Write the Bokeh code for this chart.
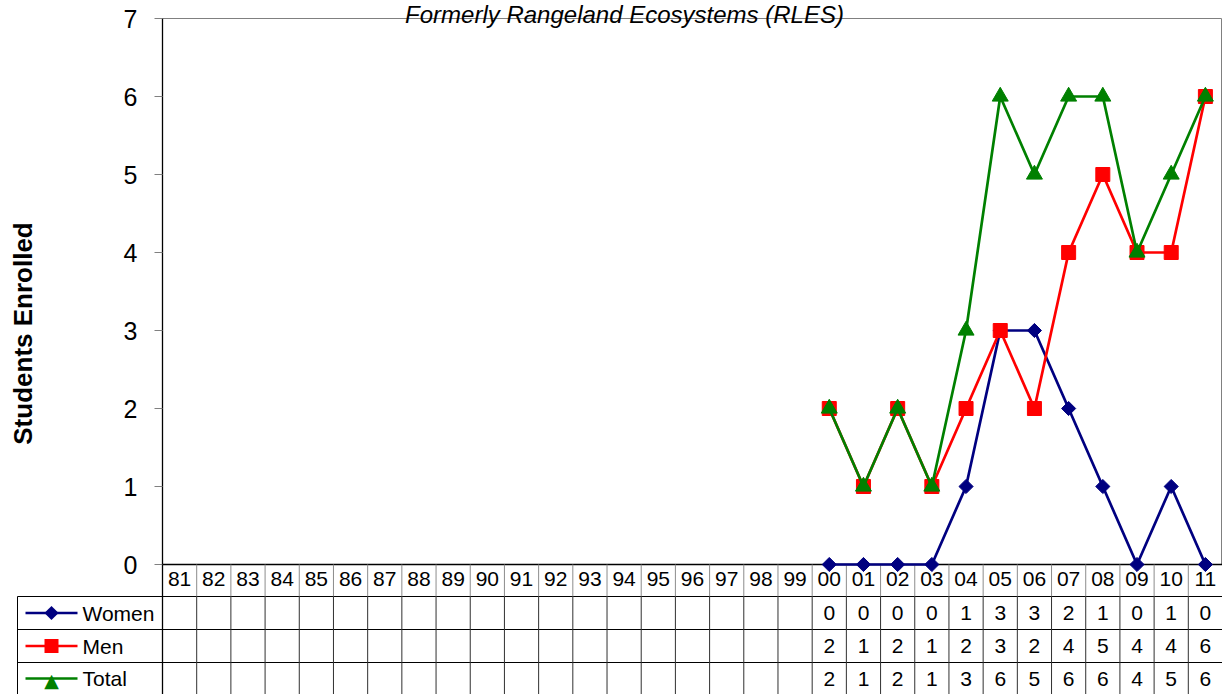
import math
from bokeh.plotting import figure
from bokeh.models import Range1d, FixedTicker
from bokeh.embed import file_html
from bokeh.resources import INLINE
from bokeh.core.properties import value

# ---------------- data ----------------
years = ["81", "82", "83", "84", "85", "86", "87", "88", "89", "90",
         "91", "92", "93", "94", "95", "96", "97", "98", "99", "00",
         "01", "02", "03", "04", "05", "06", "07", "08", "09", "10", "11"]
women = [None] * 19 + [0, 0, 0, 0, 1, 3, 3, 2, 1, 0, 1, 0]
men = [None] * 19 + [2, 1, 2, 1, 2, 3, 2, 4, 5, 4, 4, 6]
total = [None] * 19 + [2, 1, 2, 1, 3, 6, 5, 6, 6, 4, 5, 6]
series_names = ["Women", "Men", "Total"]
y_ticks = [0, 1, 2, 3, 4, 5, 6, 7]
title_text = "Formerly Rangeland Ecosystems (RLES)"
y_title = "Students Enrolled"

# ---------------- layout helpers (page pixels -> data units) ----------------
W, H = 1222, 694
FL, FR, FT, FB = 162, 1222, 18, 564   # plot frame on the page
NCAT = len(years)
YMAX = 7
PXX = NCAT / (FR - FL)        # data units per pixel, x
PXY = YMAX / (FB - FT)        # data units per pixel, y


def dx(px):
    return 0.5 + (px - FL) * PXX


def dy(py):
    return (FB - py) * PXY


FONT = "Liberation Sans"
xs = list(range(1, NCAT + 1))

p = figure(width=W, height=H, x_range=Range1d(0.5, NCAT + 0.5), y_range=Range1d(0, YMAX),
           output_backend="svg", toolbar_location=None,
           min_border_left=FL, min_border_right=0,
           min_border_top=FT, min_border_bottom=H - FB)
p.grid.visible = False
p.outline_line_color = "#808080"
p.outline_line_width = 1
p.background_fill_color = "white"
p.border_fill_color = "white"

# y axis
ya = p.yaxis[0]
ya.ticker = FixedTicker(ticks=y_ticks)
ya.major_label_text_font = FONT
ya.major_label_text_font_size = "25px"
ya.major_label_text_color = "black"
ya.major_tick_out = 8
ya.major_tick_in = 0
ya.minor_tick_out = 0
ya.minor_tick_in = 0
ya.major_tick_line_color = "#808080"
ya.axis_line_color = "black"
ya.axis_line_width = 1.3
ya.major_label_standoff = 17

# x axis (header row of the data table)
xa = p.xaxis[0]
xa.ticker = FixedTicker(ticks=xs)
xa.major_label_overrides = {i: years[i - 1] for i in xs}
xa.major_label_text_font = FONT
xa.major_label_text_font_size = "21px"
xa.major_label_text_color = "black"
xa.major_tick_out = 0
xa.major_tick_in = 0
xa.minor_tick_out = 0
xa.minor_tick_in = 0
xa.axis_line_color = "black"
xa.axis_line_width = 1.3
xa.major_label_standoff = 7

# ---------------- series ----------------
styles = {
    "Women": dict(color="#000080", marker="square", size=10, angle=math.pi / 4),
    "Men": dict(color="#FF0000", marker="square", size=14, angle=0.0),
    "Total": dict(color="#008000", marker="triangle", size=16, angle=0.0),
}
data = {"Women": women, "Men": men, "Total": total}

for name in series_names:
    vals = [float("nan") if v is None else v for v in data[name]]
    st = styles[name]
    p.line(xs, vals, line_color=st["color"], line_width=2.7, level="overlay")
    p.scatter(xs, vals, marker=st["marker"], size=st["size"], angle=st["angle"],
              fill_color=st["color"], line_color=st["color"], level="overlay")

# ---------------- data table ----------------
row_lines = [596, 629, 662]
row_centers = [612.5, 645.5, 678]
x_left = dx(17)
x_right = NCAT + 0.5
y_head_top = 0
y_head_bot = dy(596)
y_bottom = dy(694)

# horizontal rules
p.segment(x0=[x_left] * len(row_lines), y0=[dy(r) for r in row_lines],
          x1=[x_right] * len(row_lines), y1=[dy(r) for r in row_lines],
          line_color="black", line_width=1, level="annotation")
# left border of the table
p.segment(x0=[x_left], y0=[y_head_bot], x1=[x_left], y1=[y_bottom],
          line_color="black", line_width=1, level="annotation")
# column separators
seps = [i + 0.5 for i in range(1, NCAT + 1)]
p.segment(x0=seps, y0=[y_head_top] * len(seps), x1=seps, y1=[y_head_bot] * len(seps),
          line_color="#8c8c8c", line_width=1, level="annotation")
p.segment(x0=seps, y0=[y_head_bot] * len(seps), x1=seps, y1=[y_bottom] * len(seps),
          line_color="#303030", line_width=1, level="annotation")
p.segment(x0=[0.5], y0=[0], x1=[0.5], y1=[y_bottom],
          line_color="black", line_width=1.3, level="annotation")

kx = dx(51)
for name, yc in zip(series_names, row_centers):
    st = styles[name]
    yy = dy(yc)
    # legend key: line + marker
    p.segment(x0=[dx(25)], y0=[yy], x1=[dx(77)], y1=[yy], line_color=st["color"],
              line_width=2.7, level="annotation")
    if name == "Men":
        # square drawn as a thick butt-capped stroke (14 x 14 px)
        p.segment(x0=[kx - 7 * PXX], y0=[yy], x1=[kx + 7 * PXX], y1=[yy],
                  line_color=st["color"], line_width=14, line_cap="butt", level="annotation")
    elif name == "Women":
        # diamond: a 10 px square stroke rotated by 45 degrees
        a = 3.55
        p.segment(x0=[kx - a * PXX], y0=[yy - a * PXY], x1=[kx + a * PXX], y1=[yy + a * PXY],
                  line_color=st["color"], line_width=10, line_cap="butt", level="annotation")
    else:
        p.text(x=[kx], y=[yy - 1.5 * PXY], text=["\u25B2"], text_font=value("DejaVu Sans"),
               text_font_size="19px", text_align="center", text_baseline="middle",
               text_color=st["color"], level="annotation")
    p.text(x=[dx(82)], y=[yy], text=[name], text_font=value(FONT), text_font_size="21px",
           text_align="left", text_baseline="middle", text_color="black", level="annotation")
    cells = ["" if v is None else str(v) for v in data[name]]
    p.text(x=xs, y=[yy] * NCAT, text=cells, text_font=value(FONT), text_font_size="21px",
           text_align="center", text_baseline="middle", text_color="black", level="annotation")

# y axis title (centred over plot + table, as in the reference)
p.text(x=[dx(22)], y=[dy(333)], text=[y_title], angle=math.pi / 2,
       text_font=value(FONT), text_font_style="bold", text_font_size="26px",
       text_align="center", text_baseline="middle", text_color="black", level="annotation")

# chart title, pushed up against the top edge as in the reference
p.text(x=[dx(624)], y=[dy(13.5)], text=[title_text],
       text_font=value(FONT), text_font_style="italic", text_font_size="24px",
       text_align="center", text_baseline="alphabetic", text_color="black", level="annotation")

open("out.html", "w").write(file_html(p, INLINE))
